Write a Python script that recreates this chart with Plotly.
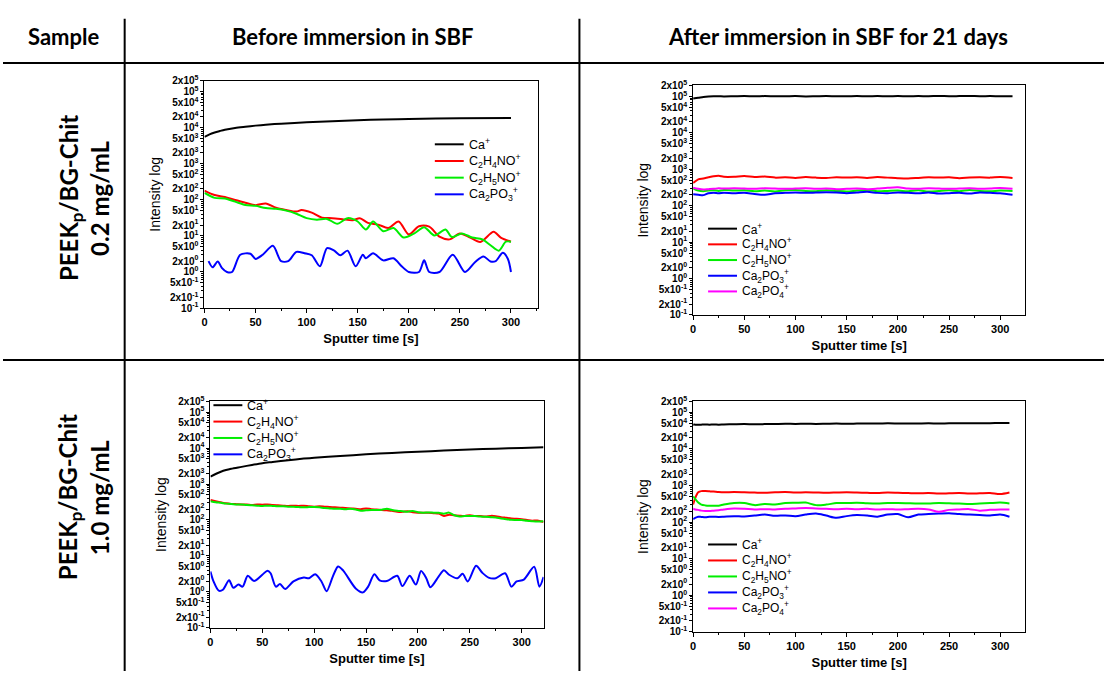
import plotly.graph_objects as go

# ---------------- data ----------------
# Plot A: PEEKp/BG-Chit 0.2 mg/mL, before SBF
a_ca_t = [0, 5, 10, 15, 20, 30, 40, 50, 60, 75, 100, 125, 150, 175, 200, 250, 300]
a_ca_v = [5500, 6500, 7300, 8000, 8700, 9700, 10500, 11300, 12000, 12800, 14000, 15000, 16000, 16700, 17300, 18200, 18500]
a_c2h4_t = [0, 10, 20, 30, 40, 50, 60, 70, 80, 90, 95, 105, 115, 125, 135, 145, 152, 160, 170, 180, 190, 200,
            210, 220, 230, 240, 250, 260, 270, 283, 290, 300]
a_c2h4_v = [180, 135, 120, 98, 83, 71, 79, 60, 52, 47, 52, 44, 32, 31, 29, 27, 31, 23, 20.5, 16.6, 25, 11,
            18.5, 18, 9.5, 8, 11.7, 9, 6.8, 13, 9, 6.9]
a_c2h5_t = [0, 10, 20, 30, 40, 50, 60, 70, 80, 90, 100, 110, 120, 130, 140, 150, 158, 165, 175, 185, 195, 205,
            215, 225, 236, 242, 252, 262, 272, 280, 288, 295, 300]
a_c2h5_v = [155, 113, 109, 89, 72, 68, 59, 56, 50, 41, 31, 28, 29.5, 21.6, 31, 25, 15, 25, 13.5, 16.5, 9, 11.5,
            17.4, 10.3, 15, 9.3, 11.7, 9, 8, 5.5, 3.9, 6.9, 6.9]
a_po3_t = [4, 8, 13, 17, 22, 27, 35, 45, 50, 57, 67, 75, 82, 90, 98, 105, 113, 120, 127, 133, 140, 148, 155,
           158, 165, 175, 185, 193, 200, 210, 215, 220, 230, 243, 255, 265, 273, 280, 285, 292, 297, 300]
a_po3_v = [2.0, 1.35, 1.96, 1.3, 1.0, 1.0, 3.0, 3.2, 2.3, 3.0, 5.3, 2.0, 2.0, 3.6, 3.3, 2.9, 1.44, 4.6, 3.9, 2.9,
           3.9, 1.44, 3.0, 2.4, 3.3, 2.1, 2.4, 1.44, 1.0, 1.0, 2.1, 1.0, 1.0, 3.0, 1.0, 1.9, 2.7, 1.96, 2.0, 3.4,
           2.3, 1.0]

# Plot B: 0.2 mg/mL, after 21 days SBF
b_t = [0, 5, 10, 15, 20, 25, 30, 40, 50, 60, 70, 80, 90, 100, 110, 120, 130, 140, 150, 160, 170, 180, 190, 200,
       210, 220, 230, 240, 250, 260, 270, 280, 290, 300, 312]
b_ca = [88000, 92000, 97000, 100000, 101000, 101000, 100000, 101000, 102000, 101000, 102000, 101000, 101000,
        102000, 100000, 101000, 102000, 101000, 101000, 102000, 101000, 102000, 101000, 102000, 101000, 102000,
        101000, 103000, 101000, 102000, 103000, 101000, 102000, 101000, 101000]
b_c2h4 = [420, 530, 560, 600, 640, 660, 620, 620, 650, 610, 630, 590, 600, 580, 610, 590, 580, 600, 590, 600,
          580, 610, 590, 570, 560, 580, 600, 590, 600, 570, 590, 600, 590, 610, 580]
b_c2h5 = [300, 260, 250, 260, 265, 255, 270, 260, 265, 250, 260, 245, 265, 270, 255, 250, 265, 255, 245, 260,
          270, 250, 255, 260, 250, 265, 245, 255, 265, 250, 270, 255, 250, 260, 255]
b_po3 = [205, 200, 195, 220, 225, 220, 225, 220, 225, 210, 200, 220, 225, 230, 225, 230, 235, 230, 220, 230,
         240, 225, 220, 230, 225, 220, 230, 215, 220, 225, 215, 230, 225, 220, 200]
b_po4 = [310, 290, 280, 285, 290, 300, 295, 300, 295, 290, 300, 295, 290, 295, 300, 290, 295, 285, 290, 295,
         285, 295, 310, 320, 295, 290, 300, 295, 290, 295, 300, 290, 295, 305, 290]

# Plot C: 1.0 mg/mL, before SBF
c_ca_t = [0, 5, 10, 15, 20, 30, 40, 50, 60, 75, 90, 100, 125, 150, 175, 200, 225, 250, 275, 300, 321]
c_ca_v = [1600, 1900, 2200, 2450, 2650, 3000, 3400, 3800, 4100, 4600, 5100, 5400, 6000, 6700, 7300, 7900, 8500,
          9100, 9600, 10100, 10500]
c_t = [0, 5, 10, 15, 20, 25, 30, 35, 40, 45, 50, 55, 60, 65, 70, 75, 80, 85, 90, 95, 100, 105, 110, 115, 120,
       125, 130, 135, 140, 145, 150, 155, 160, 165, 170, 175, 180, 185, 190, 195, 200, 205, 210, 215, 220, 225,
       230, 235, 240, 245, 250, 255, 260, 265, 270, 275, 280, 285, 290, 295, 300, 305, 310, 315, 321]
c_c2h4 = [360, 330, 310, 290, 280, 275, 270, 270, 260, 270, 265, 270, 260, 255, 250, 245, 250, 245, 250, 240,
          235, 240, 235, 230, 225, 220, 215, 210, 205, 200, 210, 200, 195, 190, 185, 180, 170, 168, 175, 165,
          160, 158, 160, 155, 150, 130, 140, 135, 132, 130, 135, 130, 128, 125, 130, 128, 120, 115, 110, 108,
          105, 100, 95, 97, 88]
c_c2h5 = [330, 310, 300, 285, 280, 270, 270, 260, 255, 250, 245, 250, 245, 240, 240, 235, 232, 228, 225, 228,
          230, 225, 215, 210, 205, 205, 200, 205, 195, 180, 185, 190, 188, 192, 205, 190, 180, 175, 170, 178,
          165, 160, 162, 160, 158, 150, 160, 135, 125, 128, 130, 128, 125, 122, 120, 118, 110, 105, 102, 100,
          100, 95, 92, 90, 92]
c_po3_t = [0, 3, 8, 12, 18, 22, 27, 31, 36, 42, 50, 55, 58, 63, 67, 72, 80, 90, 95, 101, 107, 112, 118, 123,
           128, 140, 147, 152, 158, 163, 170, 180, 185, 192, 198, 203, 208, 212, 220, 225, 230, 238, 243, 248,
           256, 262, 268, 275, 284, 290, 295, 302, 312, 317, 321]
c_po3_v = [3.7, 1.95, 1.08, 1.15, 2.1, 1.3, 1.6, 1.4, 2.8, 2.0, 3.0, 3.9, 3.3, 1.4, 1.65, 1.2, 1.95, 2.5, 2.4,
           3.1, 1.95, 1.05, 2.7, 5.1, 3.9, 1.25, 0.97, 1.4, 3.1, 2.1, 2.0, 2.8, 1.45, 2.8, 1.6, 3.8, 2.4, 1.35,
           2.7, 4.0, 3.0, 2.4, 3.2, 1.95, 5.3, 3.4, 2.5, 2.4, 3.3, 1.4, 1.95, 2.2, 5.0, 1.4, 2.6]

# Plot D: 1.0 mg/mL, after 21 days SBF
d_t = [0, 2, 5, 8, 12, 16, 20, 25, 30, 40, 50, 60, 70, 80, 90, 100, 110, 120, 130, 140, 150, 160, 170, 180,
       190, 200, 210, 220, 230, 240, 250, 260, 270, 280, 290, 300, 309]
d_ca = [46000, 46000, 45500, 46000, 46500, 46000, 46500, 46000, 46500, 47000, 47500, 47000, 47500, 48000, 48500,
        48000, 48500, 48000, 48500, 49000, 48500, 49000, 49500, 49000, 50000, 49500, 49000, 49500, 50000, 49500,
        50000, 50000, 50500, 50000, 50500, 51000, 51000]
d_c2h4 = [300, 450, 650, 700, 700, 690, 680, 660, 650, 660, 650, 640, 630, 650, 660, 640, 650, 640, 630, 640,
          650, 640, 630, 620, 640, 630, 620, 610, 620, 600, 610, 620, 600, 610, 620, 580, 640]
d_c2h5 = [500, 430, 340, 300, 285, 280, 280, 280, 300, 330, 330, 290, 310, 300, 330, 335, 340, 290, 300, 330,
          330, 335, 325, 320, 330, 330, 325, 320, 320, 330, 325, 320, 310, 320, 330, 340, 320]
d_po3 = [120, 130, 140, 138, 135, 140, 140, 138, 140, 145, 142, 150, 160, 148, 152, 145, 160, 170, 150, 130,
         145, 155, 150, 140, 160, 165, 135, 160, 165, 170, 175, 165, 160, 155, 150, 160, 140]
d_po4 = [230, 220, 215, 205, 200, 200, 205, 210, 220, 235, 230, 220, 225, 220, 230, 235, 240, 235, 230, 225,
         230, 225, 230, 220, 225, 220, 225, 230, 220, 190, 215, 220, 225, 205, 215, 220, 220]

species = ["Ca<sup>+</sup>", "C<sub>2</sub>H<sub>4</sub>NO<sup>+</sup>", "C<sub>2</sub>H<sub>5</sub>NO<sup>+</sup>",
           "Ca<sub>2</sub>PO<sub>3</sub><sup>+</sup>", "Ca<sub>2</sub>PO<sub>4</sub><sup>+</sup>"]
colors = ["#000000", "#ff0000", "#00ee00", "#0000ff", "#ff00ff"]

y_tickvals = [0.1, 0.2, 0.5, 1, 2, 5, 10, 20, 50, 100, 200, 500, 1e3, 2e3, 5e3, 1e4, 2e4, 5e4, 1e5, 2e5]
y_ticktext = ["10<sup>-1</sup>", "2x10<sup>-1</sup>", "5x10<sup>-1</sup>",
              "10<sup>0</sup>", "2x10<sup>0</sup>", "5x10<sup>0</sup>",
              "10<sup>1</sup>", "2x10<sup>1</sup>", "5x10<sup>1</sup>",
              "10<sup>2</sup>", "2x10<sup>2</sup>", "5x10<sup>2</sup>",
              "10<sup>3</sup>", "2x10<sup>3</sup>", "5x10<sup>3</sup>",
              "10<sup>4</sup>", "2x10<sup>4</sup>", "5x10<sup>4</sup>",
              "10<sup>5</sup>", "2x10<sup>5</sup>"]
y_minor = [m * 10 ** e for e in range(-1, 5) for m in (3, 4, 6, 7, 8, 9)]
x_tickvals = [0, 50, 100, 150, 200, 250, 300]
x_minor = [25, 75, 125, 175, 225, 275, 325]

headers = ["Sample", "Before immersion in SBF", "After immersion in SBF for 21 days"]
row_label_lines = [["PEEK<sub>p</sub>/BG-Chit", "0.2 mg/mL"], ["PEEK<sub>p</sub>/BG-Chit", "1.0 mg/mL"]]

# ---------------- figure ----------------
W, H = 1104, 677
def px(x):
    return x / W
def py(y):
    return 1 - y / H

fig = go.Figure()

# (axis suffix, x-domain px, y-domain px, x max, legend: line start x, first row y, row step, font size)
panels = [
    ("", (202, 536), (75, 307), 326, (433, 140, 17, 12.5)),
    ("2", (692, 1025), (80, 314), 324.4, (707, 226, 16, 12)),
    ("3", (208, 542), (402, 633), 321, (211, 406, 16.7, 12.5)),
    ("4", (692, 1025), (402, 637), 324.4, (707, 548, 16.3, 12)),
]

series = [
    [(a_ca_t, a_ca_v), (a_c2h4_t, a_c2h4_v), (a_c2h5_t, a_c2h5_v), (a_po3_t, a_po3_v)],
    [(b_t, b_ca), (b_t, b_c2h4), (b_t, b_c2h5), (b_t, b_po3), (b_t, b_po4)],
    [(c_ca_t, c_ca_v), (c_t, c_c2h4), (c_t, c_c2h5), (c_po3_t, c_po3_v)],
    [(d_t, d_ca), (d_t, d_c2h4), (d_t, d_c2h5), (d_t, d_po3), (d_t, d_po4)],
]

axfont = "Liberation Sans"
LEG_LEN = 29
for (suf, xd, yd, xmax, leg), sers in zip(panels, series):
    for i, (tt, vv) in enumerate(sers):
        fig.add_trace(go.Scatter(
            x=tt, y=vv, mode="lines", name=species[i],
            line=dict(color=colors[i], width=2, shape="spline", smoothing=0.8),
            xaxis="x" + suf, yaxis="y" + suf, showlegend=False))
        # legend entry (drawn in paper space)
        lx, ly, step, fs = leg
        yy = ly + i * step
        fig.add_shape(type="line", xref="paper", yref="paper",
                      x0=px(lx), x1=px(lx + LEG_LEN), y0=py(yy), y1=py(yy),
                      line=dict(color=colors[i], width=2))
        fig.add_annotation(text=species[i], xref="paper", yref="paper",
                           x=px(lx + LEG_LEN + 3), y=py(yy), xanchor="left", yanchor="middle",
                           showarrow=False, font=dict(family=axfont, size=fs, color="black"))
    xa = dict(domain=[px(xd[0]), px(xd[1])], range=[0, xmax], anchor="y" + suf,
              showline=True, linecolor="black", linewidth=1, mirror=True,
              ticks="outside", ticklen=4, tickcolor="black", tickvals=x_tickvals,
              minor=dict(ticks="outside", ticklen=2, tickcolor="black", tickvals=x_minor),
              showgrid=False, zeroline=False,
              tickfont=dict(family=axfont, size=11, color="black", weight="bold"),
              title=dict(text="<b>Sputter time [s]</b>", font=dict(family=axfont, size=13, color="black"), standoff=6))
    ya = dict(domain=[py(yd[1]), py(yd[0])], type="log", range=[-1, 5.30103], anchor="x" + suf,
              showline=True, linecolor="black", linewidth=1, mirror=True,
              ticks="outside", ticklen=3, tickcolor="black", tickmode="array",
              tickvals=y_tickvals, ticktext=y_ticktext,
              minor=dict(ticks="outside", ticklen=2, tickcolor="black", tickvals=y_minor),
              showgrid=False, zeroline=False,
              tickfont=dict(family=axfont, size=10, color="black", weight="bold"),
              title=dict(text="Intensity log", font=dict(family=axfont, size=14, color="black"), standoff=6))
    fig.layout["xaxis" + suf] = xa
    fig.layout["yaxis" + suf] = ya

# table lines
lines = [
    (122, 12, 122, 677), (578, 12, 578, 677),
    (0, 57, 1104, 57), (0, 360, 1104, 360),
]
for x0, y0, x1, y1 in lines:
    fig.add_shape(type="line", xref="paper", yref="paper", x0=px(x0), y0=py(y0), x1=px(x1), y1=py(y1),
                  line=dict(color="black", width=2))

hfont = dict(family="Lato", size=22, color="black", weight="bold")
for text, xc in zip(headers, [61, 350, 837]):
    fig.add_annotation(text=text, xref="paper", yref="paper", x=px(xc), y=py(30),
                       showarrow=False, font=hfont, xanchor="center", yanchor="middle")
for lines2, yc in zip(row_label_lines, [195, 500]):
    for text, xc in zip(lines2, [67, 97]):
        fig.add_annotation(text=text, xref="paper", yref="paper", x=px(xc), y=py(yc),
                           showarrow=False, font=dict(family="Lato", size=24, color="black", weight="bold"),
                           textangle=-90, xanchor="center", yanchor="middle")

fig.update_layout(width=W, height=H, margin=dict(l=0, r=0, t=0, b=0),
                  paper_bgcolor="white", plot_bgcolor="white", showlegend=False)

fig.write_html("out.html")
